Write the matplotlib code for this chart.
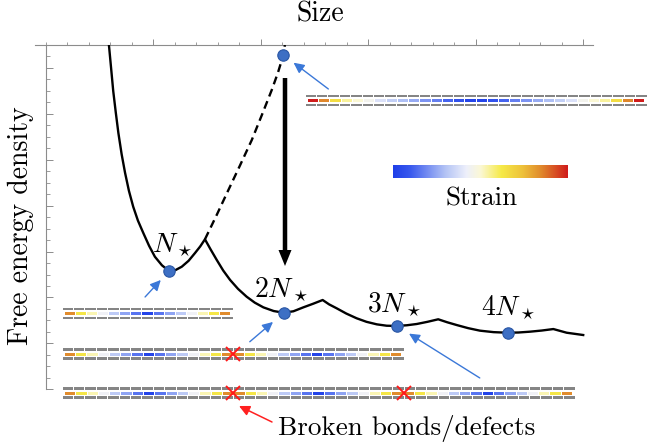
import numpy as np
import matplotlib
matplotlib.use('Agg')
import matplotlib.pyplot as plt
from matplotlib.colors import LinearSegmentedColormap
from matplotlib.patches import FancyArrow
from matplotlib.ticker import FixedLocator

plt.rcParams['mathtext.fontset'] = 'cm'
plt.rcParams['lines.scale_dashes'] = False
plt.rcParams['axes.unicode_minus'] = False

# ---------------- data (size in tick units, free energy density in tick units) ----------------
branch_size = [2.93, 3.03, 3.13, 3.25, 3.37, 3.52, 3.68, 3.86, 4.06, 4.28, 4.53, 4.80, 5.07, 5.40,
               5.73, 6.02, 6.32, 6.64, 6.94, 7.18, 7.40,
               7.66, 7.95, 8.25, 8.57, 8.94, 9.34, 9.72, 10.12, 10.60, 11.07, 11.52, 11.98, 12.43, 12.88,
               13.18, 13.53, 13.98, 14.46, 14.92, 15.40, 15.86, 16.33, 16.80, 17.26, 17.76, 18.26,
               18.68, 19.12, 19.65, 20.20, 20.84, 21.49, 22.00, 22.53, 23.08, 23.62,
               24.24, 25.01]
branch_energy = [30.0, 28.0, 25.99, 24.1, 22.33, 20.5, 18.87, 17.3, 15.91, 14.7, 13.62, 12.5, 11.55, 10.8,
                 10.31, 10.38, 10.68, 11.2, 11.88, 12.45, 13.07,
                 12.2, 11.27, 10.35, 9.53, 8.75, 8.07, 7.55, 7.14, 6.82, 6.67, 6.80, 7.14, 7.45, 7.78,
                 7.40, 7.06, 6.60, 6.19, 5.88, 5.66, 5.54, 5.52, 5.58, 5.69, 5.88, 6.10,
                 5.84, 5.60, 5.33, 5.11, 4.98, 4.93, 4.95, 5.02, 5.12, 5.25,
                 4.93, 4.73]

unstable_size = [7.40, 7.95, 8.49, 9.03, 9.58, 10.05, 10.51, 10.80, 11.05, 11.12]
unstable_energy = [13.07, 15.2, 17.36, 19.5, 21.72, 23.9, 26.08, 27.6, 29.13, 30.0]

state_size = [11.05, 5.73, 11.07, 16.33, 21.49]
state_energy = [29.13, 10.31, 6.67, 5.52, 4.93]
state_labels = ['', r'$N_\star$', r'$2N_\star$', r'$3N_\star$', r'$4N_\star$']

# strain of each bond segment in the filament sketches (0 = compressed/blue, 1 = stretched/red)
strain_stretched = [1.0, 0.85, 0.66, 0.55, 0.5, 0.45, 0.38, 0.33, 0.29, 0.25, 0.21, 0.17, 0.12, 0.07, 0.02,
                    0.02, 0.07, 0.12, 0.17, 0.21, 0.25, 0.29, 0.33, 0.38, 0.45, 0.5, 0.55, 0.66, 0.85, 1.0]
strain_piece = [0.84, 0.63, 0.53, 0.43, 0.32, 0.24, 0.15, 0.02, 0.15, 0.24, 0.32, 0.43, 0.53, 0.63, 0.84]
strain_two = strain_piece + strain_piece
strain_three = strain_piece + strain_piece + strain_piece

cmap = LinearSegmentedColormap.from_list('strain', [
    (0.0, '#1f3fe8'), (0.10, '#3a5aee'), (0.30, '#b4c4f5'), (0.42, '#eef0fb'),
    (0.50, '#fbf8d6'), (0.62, '#f6ea48'), (0.74, '#eec23a'), (0.85, '#e0882c'), (1.0, '#d01c1c')])

# ---------------- figure ----------------
fig = plt.figure(figsize=(6.48, 4.44), dpi=100)
ax = fig.add_axes([35 / 648, 1 - 389.3 / 444, 558 / 648, 344.3 / 444])
ax.set_xlim(-0.512, 25.466)
ax.set_ylim(0, 30)

spine_col = '#8c8c8c'
for s in ['right', 'bottom']:
    ax.spines[s].set_visible(False)
for s in ['top', 'left']:
    ax.spines[s].set_color(spine_col)
    ax.spines[s].set_linewidth(0.8)
ax.spines['left'].set_position(('data', 0))

ax.xaxis.set_ticks_position('top')
ax.yaxis.set_ticks_position('left')
ax.xaxis.set_major_locator(FixedLocator([5, 10, 15, 20, 25]))
ax.xaxis.set_minor_locator(FixedLocator(list(range(0, 26))))
ax.yaxis.set_major_locator(FixedLocator([0, 4, 8, 12, 16, 20, 24, 28]))
ax.yaxis.set_minor_locator(FixedLocator(list(range(0, 30))))
ax.tick_params(axis='x', which='major', direction='out', length=4.0, width=0.7, color=spine_col,
               labeltop=False, labelbottom=False)
ax.tick_params(axis='x', which='minor', direction='out', length=1.9, width=0.6, color=spine_col)
ax.tick_params(axis='y', which='major', direction='in', length=4.7, width=0.7, color=spine_col,
               labelleft=False)
ax.tick_params(axis='y', which='minor', direction='in', length=2.9, width=0.6, color=spine_col)

ax.plot(branch_size, branch_energy, color='black', lw=1.7, solid_joinstyle='round', zorder=3)
ax.plot(unstable_size, unstable_energy, color='black', lw=1.7, dashes=(5.8, 3.6), zorder=3)
ax.plot(state_size, state_energy, 'o', ms=8.2, mfc='#3d6fc4', mec='#2a56a4', mew=0.8, zorder=5,
        clip_on=False)

label_offsets = [None, (3, 19), (-2, 16), (-2, 14), (1, 18)]
for xs, ys, lab, off in zip(state_size, state_energy, state_labels, label_offsets):
    if off is None:
        continue
    ax.annotate(lab, xy=(xs, ys), xytext=off, textcoords='offset pixels', ha='center', va='baseline',
                fontsize=20, zorder=6)

blue = '#3b78d8'
arrow_specs = [(0, (45, -34), 9.2), (1, (-24, -26), 8.8), (2, (-34, -29), 10.2), (3, (83, -52), 10.4)]
for idx, off, shr in arrow_specs:
    ax.annotate('', xy=(state_size[idx], state_energy[idx]), xytext=off, textcoords='offset pixels',
                arrowprops=dict(arrowstyle='-|>,head_length=0.45,head_width=0.22', color=blue, lw=1.0,
                                mutation_scale=14, shrinkA=0, shrinkB=shr), zorder=6)

# ---------------- overlay for sketches and labels (pixel coordinates) ----------------
ov = fig.add_axes([0, 0, 1, 1])
ov.set_zorder(ax.get_zorder() + 1)
ov.patch.set_alpha(0)


def draw_strip(x0, yc, strain, pitch=11.4):
    n = len(strain)
    L = n * pitch
    gray = [(x0 + i * pitch + 0.5, pitch - 1.0) for i in range(n)]
    ov.broken_barh(gray, (yc - 5.6, 2.4), facecolors='#858585')
    ov.broken_barh(gray, (yc + 3.2, 2.4), facecolors='#858585')
    cp = (L - 5.0) / n
    col = [(x0 + 2.5 + i * cp + 0.5, cp - 1.0) for i in range(n)]
    ov.broken_barh(col, (yc - 1.5, 3.0), facecolors=[cmap(s) for s in strain])


draw_strip(305, 100.5, strain_stretched)
draw_strip(62, 313.5, strain_piece)
draw_strip(62, 354, strain_two)
draw_strip(62, 393, strain_three)

piece_len = len(strain_piece) * 11.4
for xx, yy in [(62 + piece_len, 354), (62 + piece_len, 393), (62 + 2 * piece_len, 393)]:
    ov.plot([xx], [yy], marker='x', ms=10, mew=1.4, color='#ff1a1a', zorder=7)

ov.imshow(np.linspace(0, 1, 256)[None, :], cmap=cmap, extent=[393, 568, 178.3, 165.7], aspect='auto',
          interpolation='bilinear')

ov.add_patch(FancyArrow(285, 78, 0, 188, width=4.5, head_width=13, head_length=16,
                        length_includes_head=True, color='black', lw=0))

ov.annotate('', xy=(239, 406), xytext=(272, 422),
            arrowprops=dict(arrowstyle='-|>,head_length=0.45,head_width=0.22', color='#ff2020', lw=1.1,
                            mutation_scale=14, shrinkA=0, shrinkB=0))

tf = dict(family='cmr10')
ov.text(320, 22, 'Size', fontsize=20, ha='center', va='baseline', **tf)
ov.text(21, 226, 'Free energy density', fontsize=20, rotation=90, ha='center', va='center', **tf)
ov.text(482, 205, 'Strain', fontsize=19.5, ha='center', va='baseline', **tf)
ov.text(278, 435, 'Broken bonds/defects', fontsize=19.5, ha='left', va='baseline', **tf)

ov.set_xlim(0, 648)
ov.set_ylim(444, 0)
ov.axis('off')

fig.savefig('out.png', dpi=100)
